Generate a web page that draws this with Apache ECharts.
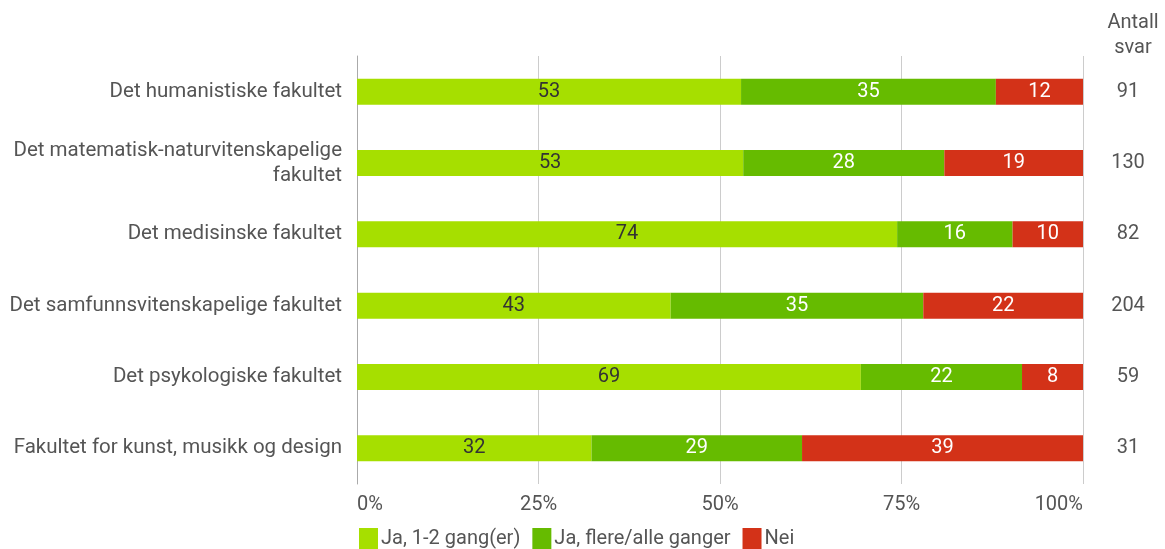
<!DOCTYPE html>
<html><head><meta charset="utf-8">
<script src="https://cdn.jsdelivr.net/npm/echarts@6/dist/echarts.min.js"></script>
<style>html,body{margin:0;padding:0;background:#fff}#c{width:1165px;height:549px}</style>
</head><body><div id="c"></div>
<script>
const categories = ["Det humanistiske fakultet","Det matematisk-naturvitenskapelige\nfakultet","Det medisinske fakultet","Det samfunnsvitenskapelige fakultet","Det psykologiske fakultet","Fakultet for kunst, musikk og design"];
const seriesNames = ["Ja, 1-2 gang(er)","Ja, flere/alle ganger","Nei"];
const ja12 = [52.9, 53.2, 74.4, 43.2, 69.4, 32.3];
const jaFlere = [35.1, 27.7, 15.9, 34.8, 22.2, 29.0];
const nei = [12.0, 19.1, 9.7, 22.0, 8.4, 38.7];
const antallSvar = ["91","130","82","204","59","31"];
const xTicks = ["0%","25%","50%","75%","100%"];

const font = 'Roboto';
const fs = 20;
const colors = ['#a6df00','#66bb00','#d33218'];
const labelColors = ['#333333','#ffffff','#ffffff'];
const seriesData = [ja12, jaFlere, nei];

const chart = echarts.init(document.getElementById('c'));
chart.setOption({
  animation:false,
  textStyle:{fontFamily:font},
  title:{text:'Antall\nsvar', top:5, textAlign:'center', left:1128,
    textStyle:{fontFamily:font,fontSize:fs,fontWeight:'normal',color:'#555',lineHeight:25}},
  legend:{left:354, bottom:-6, itemWidth:19, itemHeight:22, itemGap:12,
    icon:'rect', textStyle:{fontFamily:font,fontSize:fs,color:'#555',padding:[0,0,0,-2]}, data:seriesNames},
  grid:{left:357, right:82, top:56, bottom:65, containLabel:false},
  xAxis:{type:'value', min:0, max:100, interval:25,
    axisLine:{show:false}, axisTick:{show:false},
    splitLine:{lineStyle:{color:'#cccccc',width:1}},
    axisLabel:{fontFamily:font,fontSize:fs,color:'#555',margin:11,
      alignMinLabel:'left', alignMaxLabel:'right',
      formatter:v=>xTicks[Math.round(v/25)]}},
  yAxis:[
    {type:'category', data:categories, inverse:true,
      axisLine:{show:true,lineStyle:{color:'#aaaaaa'}}, axisTick:{show:false},
      axisLabel:{fontFamily:font,fontSize:20.5,color:'#555',margin:15,lineHeight:25,align:'right'}},
    {type:'category', data:antallSvar, inverse:true, position:'right',
      axisLine:{show:false}, axisTick:{show:false},
      axisLabel:{fontFamily:font,fontSize:fs,color:'#555',margin:45,align:'center'}}
  ],
  series: seriesNames.map((n,i)=>({
    name:n, type:'bar', stack:'t', barWidth:26, yAxisIndex:0,
    itemStyle:{color:colors[i]},
    label:{show:true, position:'inside', fontFamily:font, fontSize:fs, color:labelColors[i],
      formatter:p=>Math.round(p.value)},
    data:seriesData[i]
  }))
});
</script></body></html>
